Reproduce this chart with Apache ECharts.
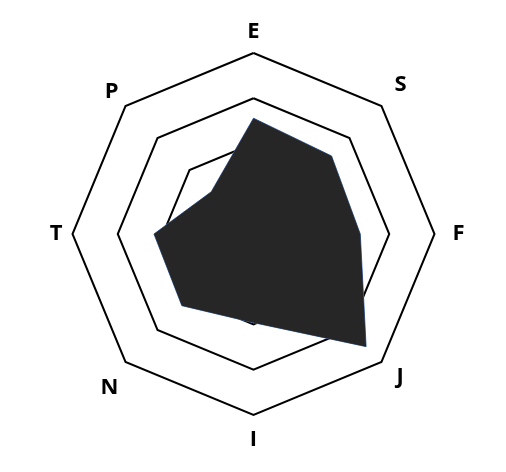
<!DOCTYPE html>
<html><head><meta charset="utf-8">
<script src="https://cdn.jsdelivr.net/npm/echarts@6/dist/echarts.min.js"></script>
<style>html,body{margin:0;padding:0;background:#fff}#c{width:506px;height:472px}</style>
</head><body><div id="c"></div>
<script>
// clockwise from top: E, S, F, J, I, N, T, P
const categories = ['E', 'S', 'F', 'J', 'I', 'N', 'T', 'P'];
const values = [64, 61, 59, 88, 49, 56, 55, 33];
const maxValue = 100;

// ECharts places indicators counter-clockwise, so reverse after the first
const order = [0, 7, 6, 5, 4, 3, 2, 1];
const indicators = order.map(i => ({ name: categories[i], max: maxValue }));
const data = order.map(i => values[i]);

// per-label nudges (padding: top, right, bottom, left)
const base = { color: '#000', fontSize: 22, fontFamily: 'Open Sans', fontWeight: 'bold' };
const rich = {
  E: Object.assign({}, base, { padding: [0, 0, 0, 0] }),
  S: Object.assign({}, base, { padding: [0, 0, 28, 6] }),
  F: Object.assign({}, base, { padding: [0, 0, 0, 8] }),
  J: Object.assign({}, base, { padding: [16, 0, 0, 8] }),
  I: Object.assign({}, base, { padding: [4, 0, 0, 0] }),
  N: Object.assign({}, base, { padding: [38, 0, 0, 0] }),
  T: Object.assign({}, base, { padding: [0, 0, 0, 0] }),
  P: Object.assign({}, base, { padding: [0, 0, 14, 0] })
};

const chart = echarts.init(document.getElementById('c'));
chart.setOption({
  animation: false,
  radar: {
    center: [253.5, 234],
    radius: 181,
    startAngle: 90,
    splitNumber: 4,
    shape: 'polygon',
    indicator: indicators,
    nameGap: 10,
    axisName: {
      formatter: name => '{' + name + '|' + name + '}',
      rich: rich,
      color: '#000', fontSize: 22, fontFamily: 'Open Sans', fontWeight: 'bold'
    },
    axisLine: { show: false },
    axisTick: { show: false },
    splitArea: { show: false },
    splitLine: { lineStyle: { color: '#000', width: 2 } }
  },
  series: [{
    type: 'radar',
    symbol: 'none',
    data: [{ value: data }],
    lineStyle: { color: '#4472c4', width: 1 },
    areaStyle: { color: '#262626', opacity: 1 }
  }]
});
</script></body></html>
